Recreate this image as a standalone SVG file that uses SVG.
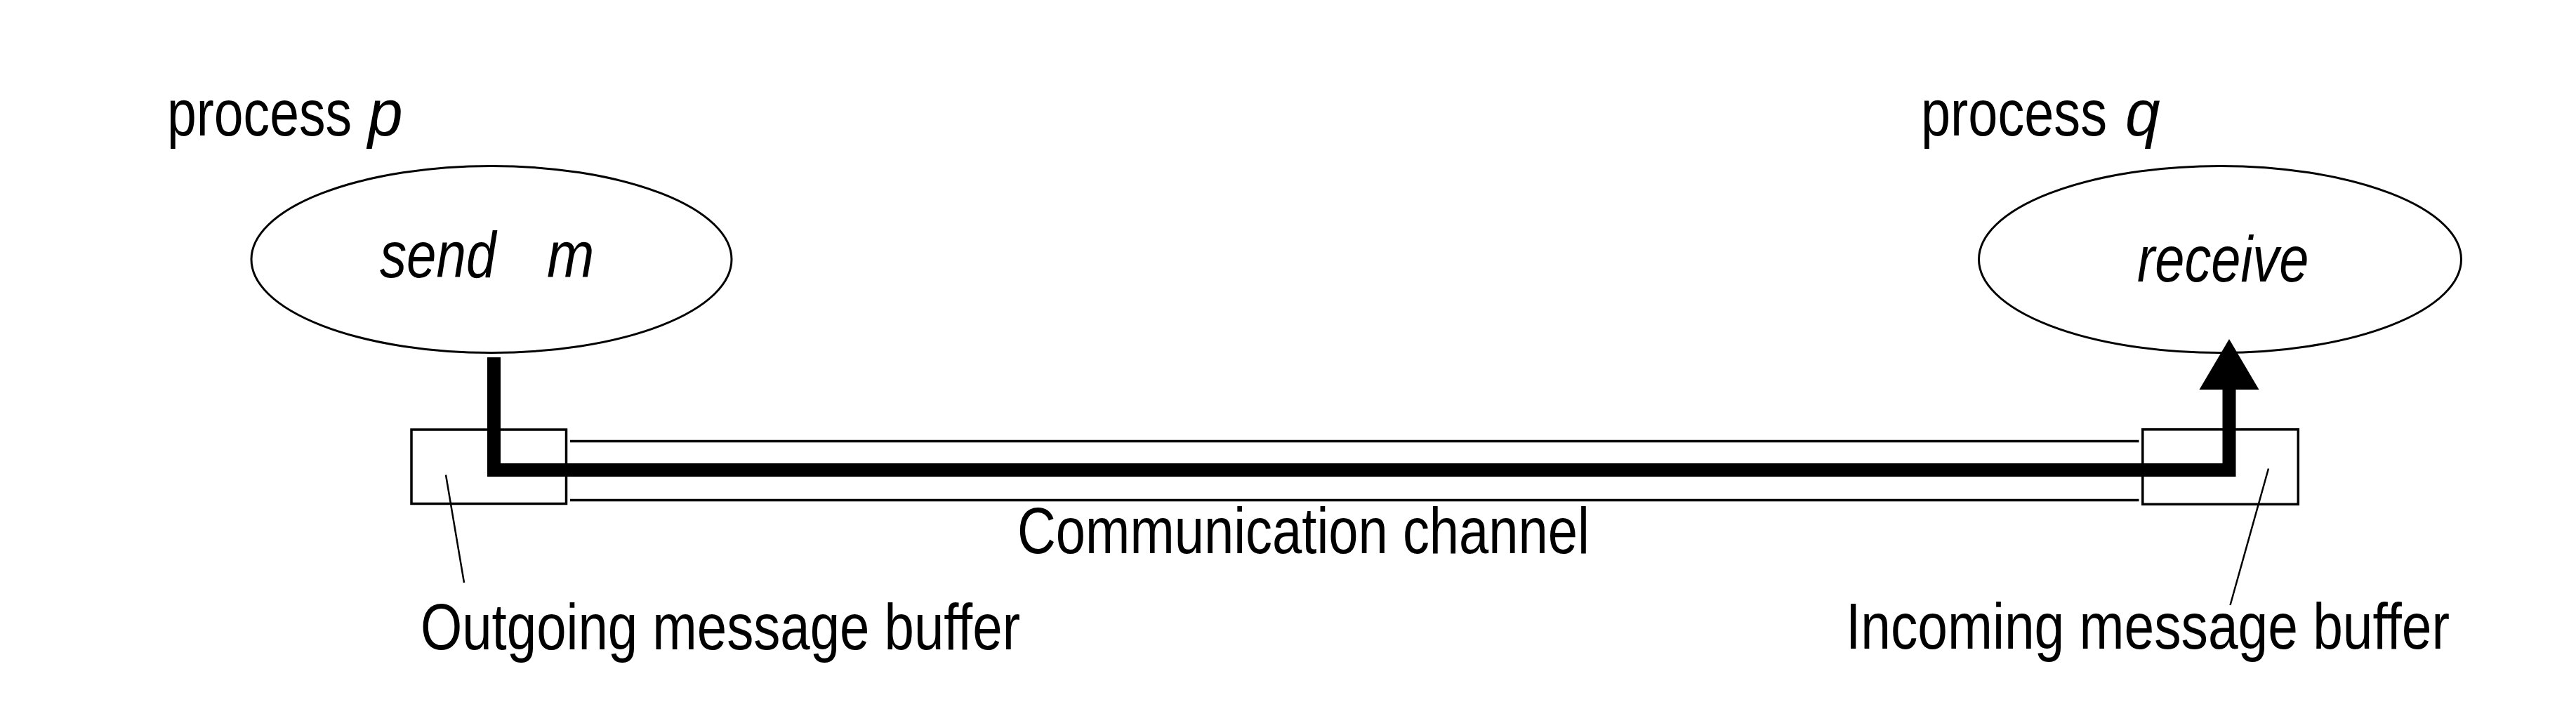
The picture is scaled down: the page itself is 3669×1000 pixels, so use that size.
<svg xmlns="http://www.w3.org/2000/svg" width="3669" height="1000" viewBox="0 0 3669 1000">
<style>
  text { font-family: "Liberation Sans", Arial, sans-serif; font-size: 93px; fill: #000; }
  .it { font-style: italic; }
  .proc { fill: none; stroke: #000; stroke-width: 3; }
  .buf { fill: none; stroke: #000; stroke-width: 3.5; }
  .chan { fill: none; stroke: #000; stroke-width: 3.5; }
  .leader { fill: none; stroke: #000; stroke-width: 2.5; }
  .flow { fill: none; stroke: #000; stroke-width: 19; stroke-linejoin: miter; stroke-linecap: butt; }
</style>
<rect width="3669" height="1000" fill="#fff"/>

<g id="process-p">
  <text transform="translate(238,193) scale(0.808,1)">process</text>
  <text class="it" transform="translate(524,193) scale(0.96,1)">p</text>
  <ellipse class="proc" cx="700" cy="369.5" rx="342" ry="133"/>
  <text class="it" transform="translate(541,395) scale(0.82,1)">send</text>
  <text class="it" transform="translate(779,395) scale(0.87,1)">m</text>
</g>

<g id="process-q">
  <text transform="translate(2736,193) scale(0.814,1)">process</text>
  <text class="it" transform="translate(3027,193) scale(0.96,1)">q</text>
  <ellipse class="proc" cx="3162" cy="369.5" rx="343.5" ry="133"/>
  <text class="it" transform="translate(3044,401) scale(0.815,1)">receive</text>
</g>

<g id="channel">
  <line class="chan" x1="812" y1="628.5" x2="3046.5" y2="628.5"/>
  <line class="chan" x1="812" y1="712.5" x2="3046.5" y2="712.5"/>
  <text x="1449" y="788" textLength="815" lengthAdjust="spacingAndGlyphs">Communication channel</text>
</g>

<g id="outgoing-buffer">
  <rect class="buf" x="586" y="612" width="220.5" height="105.5"/>
  <text x="599" y="925" textLength="854" lengthAdjust="spacingAndGlyphs">Outgoing message buffer</text>
</g>

<g id="incoming-buffer">
  <rect class="buf" x="3051.8" y="611.8" width="221.5" height="106.5"/>
  <text x="2629" y="924" textLength="860" lengthAdjust="spacingAndGlyphs">Incoming message buffer</text>
</g>

<g id="connectors">
  <path class="flow" d="M703.5,509 V669.5 H3175 V554"/>
  <polygon points="3175,483 3132.5,555 3217.5,555" fill="#000"/>
  <line class="leader" x1="635" y1="676.5" x2="661" y2="830"/>
  <line class="leader" x1="3231" y1="667.5" x2="3176.5" y2="862"/>
</g>
</svg>
